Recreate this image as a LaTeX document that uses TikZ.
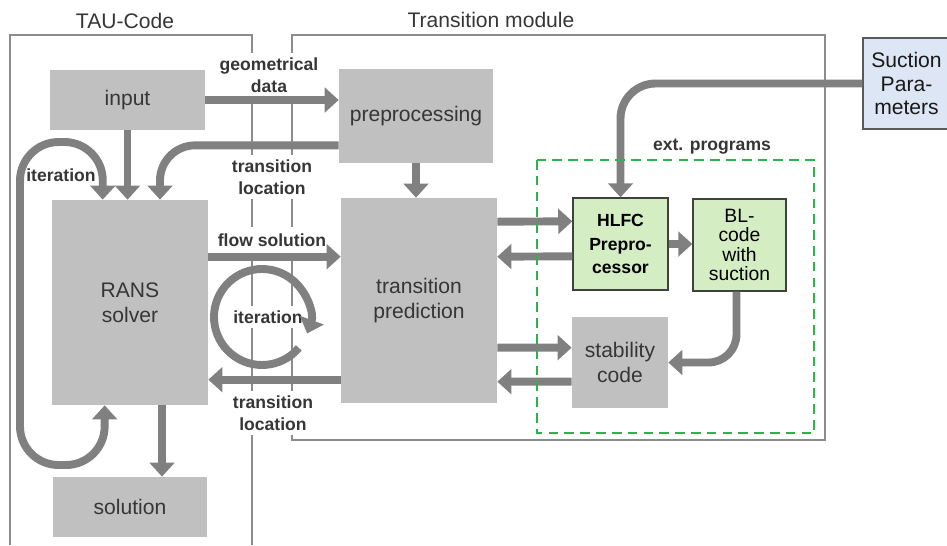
\documentclass[tikz,border=0pt]{standalone}
\usepackage{fontspec}
\setmainfont{Liberation Sans}
\usetikzlibrary{arrows.meta,calc}
\definecolor{boxgray}{HTML}{C0C0C0}
\definecolor{arrowgray}{HTML}{808080}
\definecolor{framegray}{HTML}{8C8C8C}
\definecolor{textgray}{HTML}{363636}
\definecolor{extgreen}{HTML}{D5EDC3}
\definecolor{suctblue}{HTML}{DCE6F4}
\definecolor{dashgreen}{HTML}{2DB34A}
\tikzset{>={Triangle[width=14pt,length=8pt]}}
\begin{document}
\begin{tikzpicture}[x=0.02cm,y=-0.02cm,
  box/.style={fill=boxgray,text=textgray,font=\fontsize{12}{14}\selectfont,align=center,inner sep=0pt},
  extbox/.style={box,fill=extgreen,draw=black!75,line width=0.8pt,text=black},
  flow/.style={draw=arrowgray,line width=4.5pt,->},
  lbl/.style={fill=white,text=textgray,font=\bfseries\fontsize{10}{12.5}\selectfont,align=center,inner sep=2.5pt},
  frame/.style={draw=framegray,line width=0.9pt}]
\useasboundingbox (0,0) rectangle (947,545);

\draw[frame] (252,545) -- (252,35) -- (10,35) -- (10,545);
\draw[frame] (292,35) rectangle (825,440);
\node[text=textgray,font=\fontsize{12}{14}\selectfont] (tau) at (125,21) {TAU-Code};
\node[text=textgray,font=\fontsize{12}{14}\selectfont] (module) at (491,20) {Transition module};

\node[box,minimum width=3.1cm,minimum height=1.2cm] (input) at (127.5,100) {input};
\node[box,minimum width=3.08cm,minimum height=1.88cm] (prep) at (416,116) {preprocessing};
\node[box,minimum width=3.12cm,minimum height=4.1cm] (rans) at (130,302.5) {RANS\\solver};
\node[box,minimum width=3.1cm,minimum height=1.2cm] (sol) at (130,507) {solution};
\node[box,minimum width=3.12cm,minimum height=4.1cm] (trans) at (419,300.5) {transition\\prediction};
\node[extbox,font=\bfseries\fontsize{10}{13.5}\selectfont,minimum width=1.9cm,minimum height=1.84cm] (hlfc) at (620.5,244) {HLFC\\Prepro-\\cessor};
\node[extbox,font=\fontsize{11}{11}\selectfont,minimum width=1.86cm,minimum height=1.84cm] (bl) at (739.5,245) {BL-\\code\\with\\suction};
\node[box,minimum width=1.92cm,minimum height=1.82cm] (stab) at (620,362.5) {stability\\code};
\node[box,fill=suctblue,draw=black!65,line width=0.8pt,text=black!90,font=\fontsize{12}{13.6}\selectfont,minimum width=1.74cm,minimum height=1.82cm] (suct) at (906.5,83.5) {Suction\\Para-\\meters};

\node[lbl] (geo) at (269,75) {geometrical\\data};
\node[lbl] (loctop) at (272,177) {transition\\location};
\node[lbl,inner ysep=4pt] (flowsol) at (272,240) {flow solution};
\node[lbl] (itermid) at (268,317) {iteration};
\node[lbl] (locbot) at (273,413) {transition\\location};
\node[text=textgray,font=\bfseries\fontsize{10}{12.5}\selectfont] (iterleft) at (61,175) {iteration};
\node[text=textgray,font=\bfseries\fontsize{10}{12.5}\selectfont] (ext) at (712,147) {ext. programs};

\draw[flow] (input.east) -- (input.east -| prep.west);
\draw[flow] (input.south) -- (input.south |- rans.north);
\draw[flow,rounded corners=20pt] ($(prep.south west)+(0,-18)$) -| ($(rans.north)+(30,0)$);
\draw[flow,<->,rounded corners=22pt] ($(rans.south west)+(53,0)$) |- (20,465) |- (103,142) -- ($(rans.north west)+(51,0)$);
\draw[flow] ($(rans.north east)+(0,57)$) -- ($(trans.north west)+(0,59)$);
\draw[flow] ($(trans.north west)+(0,182)$) -- ($(rans.north east)+(0,180)$);
\draw[flow] ($(rans.south)+(32,0)$) -- ($(sol.north)+(32,0)$);
\draw[flow] (prep.south) -- (prep.south |- trans.north);
\coordinate (loop) at (262,317);
\draw[flow] ($(loop)+(40:48)$) arc[start angle=40,end angle=380,radius=48];
\draw[flow] ($(trans.north east)+(0,24)$) -- ($(hlfc.north west)+(0,24)$);
\draw[flow] ($(hlfc.north west)+(0,59)$) -- ($(trans.north east)+(0,59)$);
\draw[flow] ($(trans.north east)+(0,150)$) -- ($(stab.north west)+(0,31)$);
\draw[flow] ($(stab.north west)+(0,65)$) -- ($(trans.north east)+(0,184)$);
\draw[flow] (hlfc.east) -- (hlfc.east -| bl.west);
\draw[flow,rounded corners=16pt] ($(bl.south)+(-3,0)$) |- (stab.east);
\draw[flow,rounded corners=20pt] (suct.west) -| (hlfc.north);

\draw[dashgreen,line width=1.1pt,dash pattern=on 5.5pt off 3.5pt] (537,160) rectangle (814,433);
\end{tikzpicture}
\end{document}
